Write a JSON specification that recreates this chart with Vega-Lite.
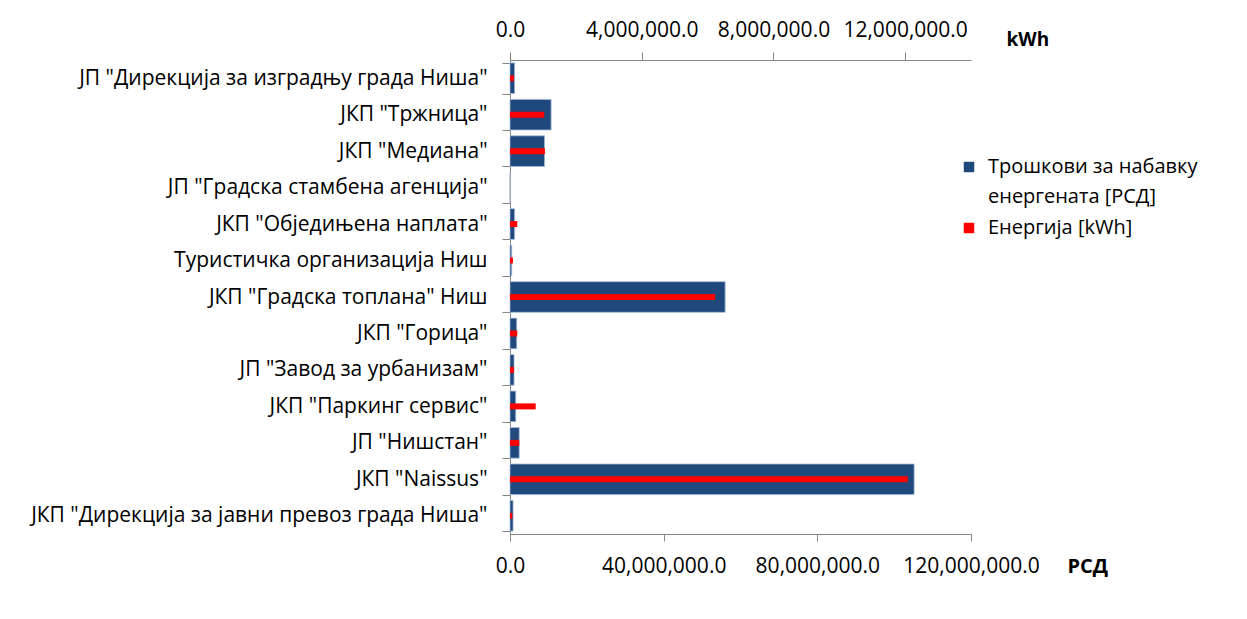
{
  "$schema": "https://vega.github.io/schema/vega-lite/v6.json",
  "width": 461,
  "height": 474,
  "autosize": {"type": "none"},
  "padding": {"left": 510, "top": 60, "right": 276, "bottom": 85},
  "background": "white",
  "config": {
    "font": "Open Sans",
    "view": {"stroke": null},
    "axis": {"grid": false, "domainColor": "#868686", "tickColor": "#868686", "labelColor": "#000000", "titleColor": "#000000"},
    "style": {"guide-label": {"lineHeight": 30}}
  },
  "data": {
    "values": [
      {"org": "ЈП \"Дирекција за изградњу града Ниша\"", "rsd": 1200000, "kwh": 120000},
      {"org": "ЈКП \"Тржница\"", "rsd": 10700000, "kwh": 1040000},
      {"org": "ЈКП \"Медиана\"", "rsd": 9000000, "kwh": 1060000},
      {"org": "ЈП \"Градска стамбена агенција\"", "rsd": 0, "kwh": 0},
      {"org": "ЈКП \"Обједињена наплата\"", "rsd": 1200000, "kwh": 220000},
      {"org": "Туристичка организација Ниш", "rsd": 450000, "kwh": 90000},
      {"org": "ЈКП \"Градска топлана\" Ниш", "rsd": 56000000, "kwh": 6230000},
      {"org": "ЈКП \"Горица\"", "rsd": 1750000, "kwh": 220000},
      {"org": "ЈП \"Завод за урбанизам\"", "rsd": 1050000, "kwh": 120000},
      {"org": "ЈКП \"Паркинг сервис\"", "rsd": 1500000, "kwh": 780000},
      {"org": "ЈП \"Нишстан\"", "rsd": 2400000, "kwh": 280000},
      {"org": "ЈКП \"Naissus\"", "rsd": 105200000, "kwh": 12080000},
      {"org": "ЈКП \"Дирекција за јавни превоз града Ниша\"", "rsd": 800000, "kwh": 70000}
    ]
  },
  "encoding": {
    "y": {
      "field": "org",
      "type": "nominal",
      "sort": null,
      "scale": {"paddingInner": 0.16, "paddingOuter": 0.08},
      "axis": {"title": null, "tickSize": 8, "tickBand": "extent", "labelPadding": 15, "labelFontSize": 21, "labelLimit": 600}
    }
  },
  "layer": [
    {
      "mark": {"type": "bar", "stroke": "#a8bbd6", "strokeWidth": 0.8},
      "encoding": {
        "x": {
          "field": "rsd",
          "type": "quantitative",
          "scale": {"domain": [0, 120000000], "nice": false},
          "axis": {
            "orient": "bottom",
            "values": [0, 40000000, 80000000, 120000000],
            "format": ",.1f",
            "labelFontSize": 21,
            "labelFlush": false,
            "labelOverlap": false,
            "tickSize": 7,
            "labelPadding": 14,
            "title": "РСД",
            "titleFontSize": 20,
            "titleFontWeight": "bold",
            "titleX": 557,
            "titleY": 38,
            "titleAlign": "left",
            "titleBaseline": "alphabetic",
            "titleAngle": 0
          }
        },
        "color": {
          "datum": "Трошкови за набавку енергената  [РСД]",
          "scale": {"domain": ["Трошкови за набавку енергената  [РСД]", "Енергија [kWh]"], "range": ["#1F497D", "#FF0000"]},
          "legend": {
            "title": null,
            "orient": "none",
            "legendX": 449,
            "legendY": 97,
            "symbolType": "square",
            "symbolSize": 110,
            "symbolStrokeWidth": 0,
            "labelFontSize": 20,
            "labelLimit": 400,
            "labelOffset": 9,
            "rowPadding": 11,
            "labelExpr": "datum.label == 'Енергија [kWh]' ? datum.label : ['Трошкови за набавку', 'енергената  [РСД]']"
          }
        }
      }
    },
    {
      "mark": {"type": "bar", "size": 6},
      "encoding": {
        "x": {
          "field": "kwh",
          "type": "quantitative",
          "scale": {"domain": [0, 14000000], "nice": false},
          "axis": {
            "orient": "top",
            "values": [0, 4000000, 8000000, 12000000],
            "format": ",.1f",
            "labelFontSize": 21,
            "labelFlush": false,
            "labelOverlap": false,
            "tickSize": 8,
            "labelPadding": 12,
            "title": "kWh",
            "titleFontSize": 19,
            "titleFontWeight": "bold",
            "titleX": 496,
            "titleY": -15,
            "titleAlign": "left",
            "titleBaseline": "alphabetic",
            "titleAngle": 0
          }
        },
        "color": {"datum": "Енергија [kWh]"}
      }
    }
  ],
  "resolve": {"scale": {"x": "independent"}}
}
